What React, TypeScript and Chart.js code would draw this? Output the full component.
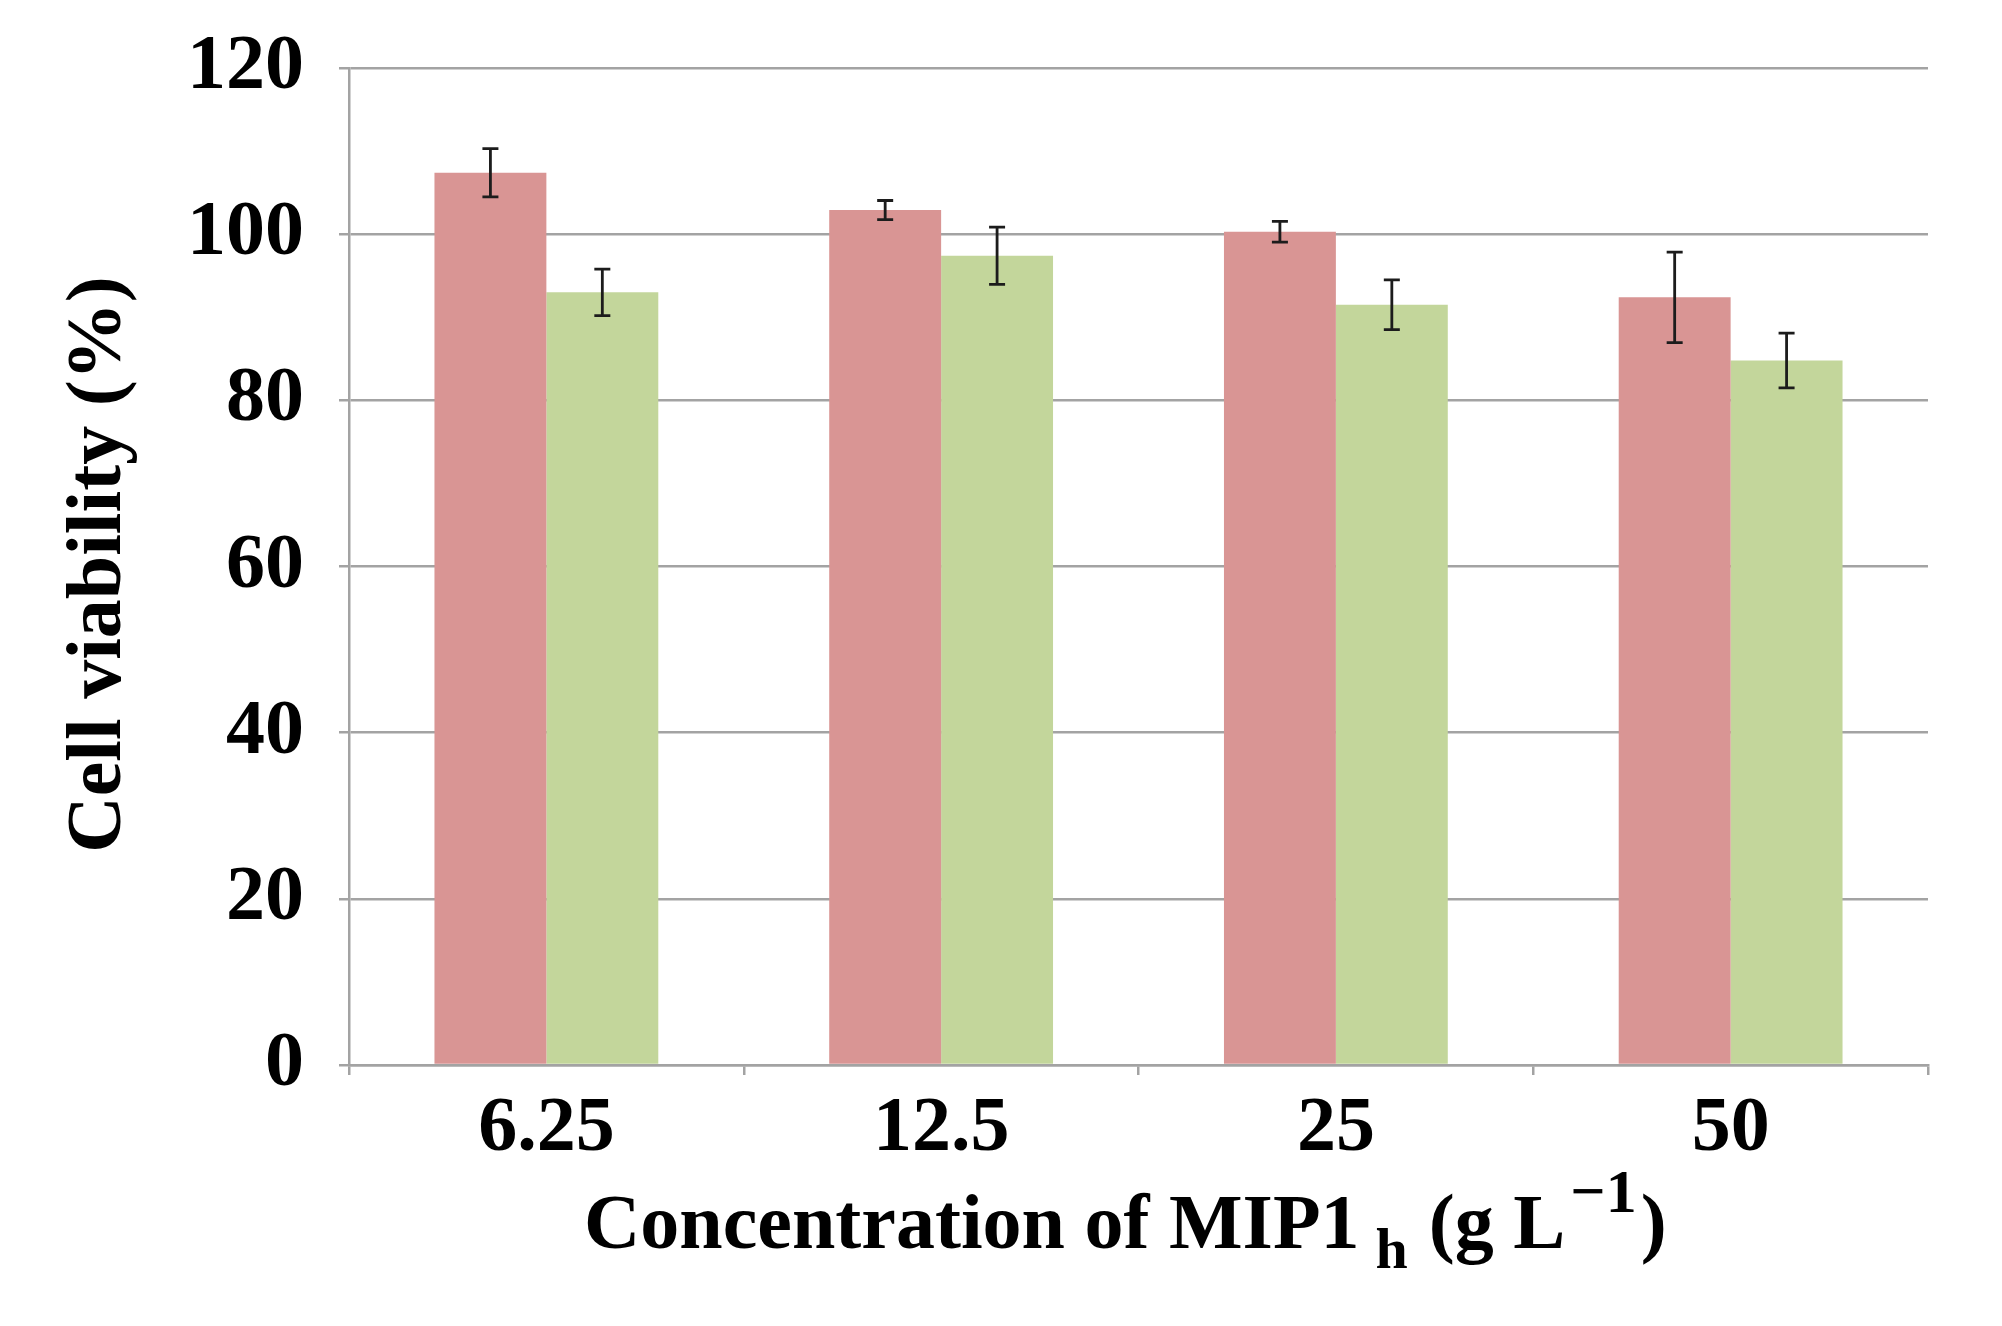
import React, { useEffect, useRef } from "react";
import { Chart, registerables } from "chart.js";

Chart.register(...registerables);

// ---- data ----
const categories = ["6.25", "12.5", "25", "50"];
const redValues = [107.4, 102.9, 100.3, 92.4];
const redErrors = [2.9, 1.15, 1.25, 5.45];
const greenValues = [93.0, 97.4, 91.5, 84.8];
const greenErrors = [2.8, 3.45, 3.0, 3.3];
const yMin = 0;
const yMax = 120;
const yStep = 20;
const yTitle = "Cell viability (%)";
const xTitleMain = "Concentration of MIP1";
const xTitleSub = "h";
const xTitleMid = "(g L";
const xTitleSup = "\u22121";
const xTitleEnd = ")";

const FONT = "'Liberation Serif', 'Times New Roman', serif";
const GRID = "#a3a3a3";

const errorBarPlugin = {
  id: "errorBars",
  afterDatasetsDraw(chart: any) {
    const ctx = chart.ctx;
    const yScale = chart.scales.y;
    chart.data.datasets.forEach((ds: any, di: number) => {
      const meta = chart.getDatasetMeta(di);
      meta.data.forEach((bar: any, i: number) => {
        const v = ds.data[i];
        const e = ds.errors[i];
        const x = bar.x;
        const yt = yScale.getPixelForValue(v + e);
        const yb = yScale.getPixelForValue(v - e);
        ctx.save();
        ctx.strokeStyle = "#1c1c1c";
        ctx.lineWidth = 2.8;
        ctx.beginPath();
        ctx.moveTo(x, yt);
        ctx.lineTo(x, yb);
        ctx.moveTo(x - 8, yt);
        ctx.lineTo(x + 8, yt);
        ctx.moveTo(x - 8, yb);
        ctx.lineTo(x + 8, yb);
        ctx.stroke();
        ctx.restore();
      });
    });
  },
};

const titlesPlugin = {
  id: "customTitles",
  afterDraw(chart: any) {
    const ctx = chart.ctx;
    const area = chart.chartArea;
    ctx.save();
    ctx.fillStyle = "#000";
    // y title
    ctx.font = `bold 78px ${FONT}`;
    ctx.textAlign = "center";
    ctx.textBaseline = "alphabetic";
    ctx.translate(120, (area.top + area.bottom) / 2 - 2);
    ctx.rotate(-Math.PI / 2);
    ctx.fillText(yTitle, 0, 0);
    ctx.restore();

    // x title with subscript / superscript
    ctx.save();
    ctx.fillStyle = "#000";
    ctx.textAlign = "left";
    ctx.textBaseline = "alphabetic";
    const mainFont = `bold 78px ${FONT}`;
    const subFont = `bold 58px ${FONT}`;
    const supFont = `bold 62px ${FONT}`;
    const baseline = 1248;
    let x = 584;
    ctx.font = mainFont;
    ctx.fillText(xTitleMain, x, baseline);
    x += ctx.measureText(xTitleMain).width + 16;
    ctx.font = subFont;
    ctx.fillText(xTitleSub, x, baseline + 20);
    x += ctx.measureText(xTitleSub).width + 21;
    ctx.font = mainFont;
    ctx.fillText(xTitleMid, x, baseline);
    x += ctx.measureText(xTitleMid).width + 5;
    ctx.font = supFont;
    ctx.fillText(xTitleSup, x, baseline - 36);
    x += ctx.measureText(xTitleSup).width + 4;
    ctx.font = mainFont;
    ctx.fillText(xTitleEnd, x, baseline);
    ctx.restore();
  },
};

export default function App() {
  const canvasRef = useRef<HTMLCanvasElement | null>(null);

  useEffect(() => {
    document.body.style.margin = "0";
    const canvas = canvasRef.current;
    if (!canvas) return;
    const chart = new Chart(canvas, {
      type: "bar",
      data: {
        labels: categories,
        datasets: [
          {
            label: "A",
            data: redValues,
            errors: redErrors,
            backgroundColor: "#D99594",
            borderWidth: 0,
            categoryPercentage: 0.567,
            barPercentage: 1,
          } as any,
          {
            label: "B",
            data: greenValues,
            errors: greenErrors,
            backgroundColor: "#C3D69B",
            borderWidth: 0,
            categoryPercentage: 0.567,
            barPercentage: 1,
          } as any,
        ],
      },
      options: {
        animation: false,
        responsive: false,
        devicePixelRatio: 1,
        layout: { padding: { top: 68, right: 74, left: 0, bottom: 0 } },
        plugins: {
          legend: { display: false },
          tooltip: { enabled: false },
          title: { display: false },
        },
        scales: {
          x: {
            offset: true,
            grid: {
              display: true,
              drawOnChartArea: false,
              drawTicks: true,
              tickLength: 10,
              color: GRID,
              lineWidth: 2.5,
              offset: true,
            },
            border: { display: true, color: GRID, width: 2.5 },
            ticks: {
              color: "#000",
              font: { family: FONT, weight: "bold", size: 78 },
              padding: 8,
              maxRotation: 0,
            },
            afterFit(scale: any) {
              scale.height = 261;
              scale.paddingLeft = 0;
              scale.paddingRight = 0;
            },
          },
          y: {
            min: yMin,
            max: yMax,
            grid: {
              color: GRID,
              lineWidth: 2.5,
              drawTicks: true,
              tickLength: 10,
            },
            border: { display: true, color: GRID, width: 2.5 },
            ticks: {
              stepSize: yStep,
              color: "#000",
              font: { family: FONT, weight: "bold", size: 78 },
              padding: 35,
            },
            afterFit(scale: any) {
              scale.width = 349;
              scale.paddingTop = 0;
              scale.paddingBottom = 0;
            },
          },
        },
      },
      plugins: [errorBarPlugin, titlesPlugin],
    } as any);
    return () => chart.destroy();
  }, []);

  return (
    <div style={{ width: 2002, height: 1326, background: "#fff" }}>
      <canvas ref={canvasRef} width={2002} height={1326} style={{ width: 2002, height: 1326, display: "block" }} />
    </div>
  );
}
